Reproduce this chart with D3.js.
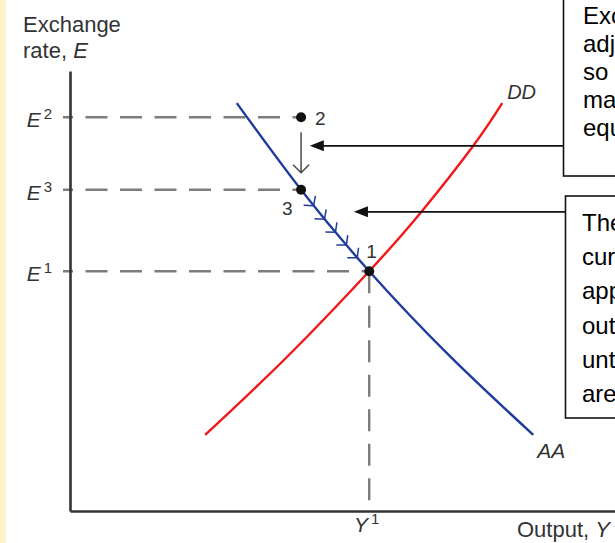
<!DOCTYPE html>
<html>
<head>
<meta charset="utf-8">
<script src="https://cdn.jsdelivr.net/npm/d3@7"></script>
<style>
  body { margin: 0; background: #fff; }
  svg { display: block; font-family: "Liberation Sans", Arial, Helvetica, sans-serif; }
</style>
</head>
<body>
<svg id="chart" width="615" height="543"></svg>
<script>
// Exchange-rate levels marked on the vertical axis (superscript index, value)
const rateNames = ["2", "3", "1"];
const rateValues = [8.95, 7.3, 5.45];

// Equilibrium output level on the horizontal axis
const outputName = "1";
const outputValue = 5.49;

// Asset-market (AA) and goods-market (DD) schedules, [output, exchange rate]
const aaCurve = [[3.06, 9.27], [4.24, 7.3], [5.49, 5.45], [6.97, 3.52], [8.5, 1.73]];
const ddCurve = [[2.48, 1.73], [3.98, 3.5], [5.49, 5.45], [6.46, 6.82], [7.41, 8.32], [7.93, 9.27]];

// Numbered positions of the economy
const pointNames = ["2", "3", "1"];
const pointOutputs = [4.24, 4.24, 5.49];
const pointRates = [8.95, 7.3, 5.45];

// Output levels of the arrowheads showing movement along AA from 3 to 1
const pathOutputs = [4.47, 4.67, 4.87, 5.07, 5.27];

// Callout notes and the spots their arrows point to, [output, exchange rate]
const note1Lines = ["Exchange rate", "adjusts immediately", "so that asset", "markets are in", "equilibrium."];
const note2Lines = ["The domestic", "currency", "appreciates, and", "output falls", "until both markets", "are in equilibrium."];
const note1Target = [4.4, 8.3];
const note2Target = [5.21, 6.8];

const W = 615, H = 543;
const svg = d3.select("#chart");

const x = d3.scaleLinear().domain([0, 10]).range([70, 615]);
const y = d3.scaleLinear().domain([0, 10]).range([511, 71]);

const BLUE = "#1f3c9c", RED = "#f01818", GRAY = "#7d7d7d", INK = "#333";

// pale strip at the left edge
svg.append("rect").attr("x", 0).attr("y", 0).attr("width", 6).attr("height", H).attr("fill", "#fff2c8");

// dashed guides from the axis to each point
const guides = svg.append("g").attr("stroke", GRAY).attr("stroke-width", 2.4)
  .attr("stroke-dasharray", "22 12.5").attr("stroke-dashoffset", 12).attr("fill", "none");
rateValues.forEach((v, i) => {
  const idx = pointRates.indexOf(v);
  guides.append("line")
    .attr("x1", x(0) - 7).attr("x2", x(pointOutputs[idx]))
    .attr("y1", y(v)).attr("y2", y(v));
});
guides.append("line")
  .attr("x1", x(outputValue)).attr("x2", x(outputValue))
  .attr("y1", y(rateValues[2])).attr("y2", y(0))
  .attr("stroke-dashoffset", 0);

// axes
const yAxis = d3.axisLeft(y).tickValues(rateValues).tickSize(0).tickSizeOuter(0).tickPadding(18)
  .tickFormat(() => "");
const gy = svg.append("g").attr("transform", `translate(${x(0)},0)`).call(yAxis);
gy.select(".domain").attr("stroke", INK).attr("stroke-width", 2.6);
gy.selectAll(".tick text").each(function(d, i) {
  const t = d3.select(this).attr("fill", INK).attr("font-size", 21).attr("dy", "0.45em");
  t.append("tspan").attr("font-style", "italic").text("E");
  t.append("tspan").attr("font-size", 15).attr("dx", 3).attr("dy", -8).text(rateNames[i]);
});

const xAxis = d3.axisBottom(x).tickValues([outputValue]).tickSize(0).tickSizeOuter(0).tickPadding(5)
  .tickFormat(() => "");
const gx = svg.append("g").attr("transform", `translate(0,${y(0)})`).call(xAxis);
gx.select(".domain").attr("stroke", INK).attr("stroke-width", 2.6);
gx.selectAll(".tick text").each(function() {
  const t = d3.select(this).attr("fill", INK).attr("font-size", 21).attr("dy", "0.78em").attr("dx", -3);
  t.append("tspan").attr("font-style", "italic").text("Y");
  t.append("tspan").attr("font-size", 15).attr("dx", 3).attr("dy", -8).text(outputName);
});

// axis titles
const yTitle = svg.append("text").attr("x", 23).attr("y", 32).attr("fill", INK).attr("font-size", 22);
yTitle.append("tspan").attr("x", 23).text("Exchange");
const yt2 = yTitle.append("tspan").attr("x", 23).attr("dy", 26);
yt2.append("tspan").text("rate, ");
yt2.append("tspan").attr("font-style", "italic").text("E");

const xTitle = svg.append("text").attr("x", 517).attr("y", 537).attr("fill", INK).attr("font-size", 22);
xTitle.append("tspan").text("Output, ");
xTitle.append("tspan").attr("font-style", "italic").text("Y");

// schedules
const line = d3.line().x(d => x(d[0])).y(d => y(d[1])).curve(d3.curveNatural);
svg.append("path").datum(ddCurve).attr("d", line)
  .attr("fill", "none").attr("stroke", RED).attr("stroke-width", 2.4);
const aaPath = svg.append("path").datum(aaCurve).attr("d", line)
  .attr("fill", "none").attr("stroke", BLUE).attr("stroke-width", 2.4);

svg.append("text").attr("x", x(ddCurve[ddCurve.length - 1][0]) + 5).attr("y", y(ddCurve[ddCurve.length - 1][1]) - 4)
  .attr("font-size", 20).attr("font-style", "italic").attr("fill", INK).text("DD");
svg.append("text").attr("x", x(aaCurve[aaCurve.length - 1][0]) + 4).attr("y", y(aaCurve[aaCurve.length - 1][1]) + 23)
  .attr("font-size", 21).attr("font-style", "italic").attr("fill", INK).text("AA");

// arrowheads along AA
const node = aaPath.node();
const total = node.getTotalLength();
function pointAtOutput(px) {
  let lo = 0, hi = total;
  for (let k = 0; k < 40; k++) {
    const mid = (lo + hi) / 2;
    if (node.getPointAtLength(mid).x < px) lo = mid; else hi = mid;
  }
  return lo;
}
const chevrons = svg.append("g").attr("stroke", BLUE).attr("stroke-width", 1.5).attr("fill", "none");
pathOutputs.forEach(v => {
  const L = pointAtOutput(x(v));
  const p = node.getPointAtLength(L);
  const q = node.getPointAtLength(L - 3);
  const ang = Math.atan2(q.y - p.y, q.x - p.x);
  const len = 10, spread = 0.85;
  const a1 = [p.x + len * Math.cos(ang + spread), p.y + len * Math.sin(ang + spread)];
  const a2 = [p.x + len * Math.cos(ang - spread), p.y + len * Math.sin(ang - spread)];
  chevrons.append("path").attr("d", `M${a1[0]},${a1[1]}L${p.x},${p.y}L${a2[0]},${a2[1]}`);
});

// jump from 2 down to 3
const ax = x(pointOutputs[0]);
const ay1 = y(pointRates[0]) + 15, ay2 = y(pointRates[1]) - 17;
svg.append("path")
  .attr("d", `M${ax},${ay1}V${ay2}M${ax - 8},${ay2 - 8}L${ax},${ay2}L${ax + 8},${ay2 - 8}`)
  .attr("fill", "none").attr("stroke", "#4a4a4a").attr("stroke-width", 1.5);

// points
const pts = svg.append("g");
pointNames.forEach((name, i) => {
  pts.append("circle").attr("cx", x(pointOutputs[i])).attr("cy", y(pointRates[i])).attr("r", 5).attr("fill", "#111");
});
const labelOffsets = [[14, 8], [-19, 25], [-3, -13]];
pointNames.forEach((name, i) => {
  pts.append("text").attr("x", x(pointOutputs[i]) + labelOffsets[i][0]).attr("y", y(pointRates[i]) + labelOffsets[i][1])
    .attr("font-size", 19).attr("fill", INK).text(name);
});

// callout boxes
function note(lines, left, top, bottom, textX, firstBase, step) {
  const g = svg.append("g");
  g.append("rect").attr("x", left).attr("y", top).attr("width", 300).attr("height", bottom - top)
    .attr("fill", "#fff").attr("stroke", "#111").attr("stroke-width", 1.6);
  g.selectAll("text").data(lines).join("text")
    .attr("x", textX).attr("y", (d, i) => firstBase + i * step)
    .attr("font-size", 24).attr("fill", "#000").text(d => d);
}
note(note1Lines, 563.5, -10, 176, 583, 24, 28);
note(note2Lines, 565.5, 196, 418, 582, 231, 34.2);

// callout arrows
function callout(fromX, target) {
  const tx = x(target[0]), ty = y(target[1]);
  svg.append("line").attr("x1", fromX).attr("x2", tx + 10).attr("y1", ty).attr("y2", ty)
    .attr("stroke", "#111").attr("stroke-width", 1.8);
  svg.append("path").attr("d", `M${tx},${ty}L${tx + 14},${ty - 5.5}L${tx + 14},${ty + 5.5}Z`).attr("fill", "#111");
}
callout(563.5, note1Target);
callout(565.5, note2Target);
</script>
</body>
</html>
